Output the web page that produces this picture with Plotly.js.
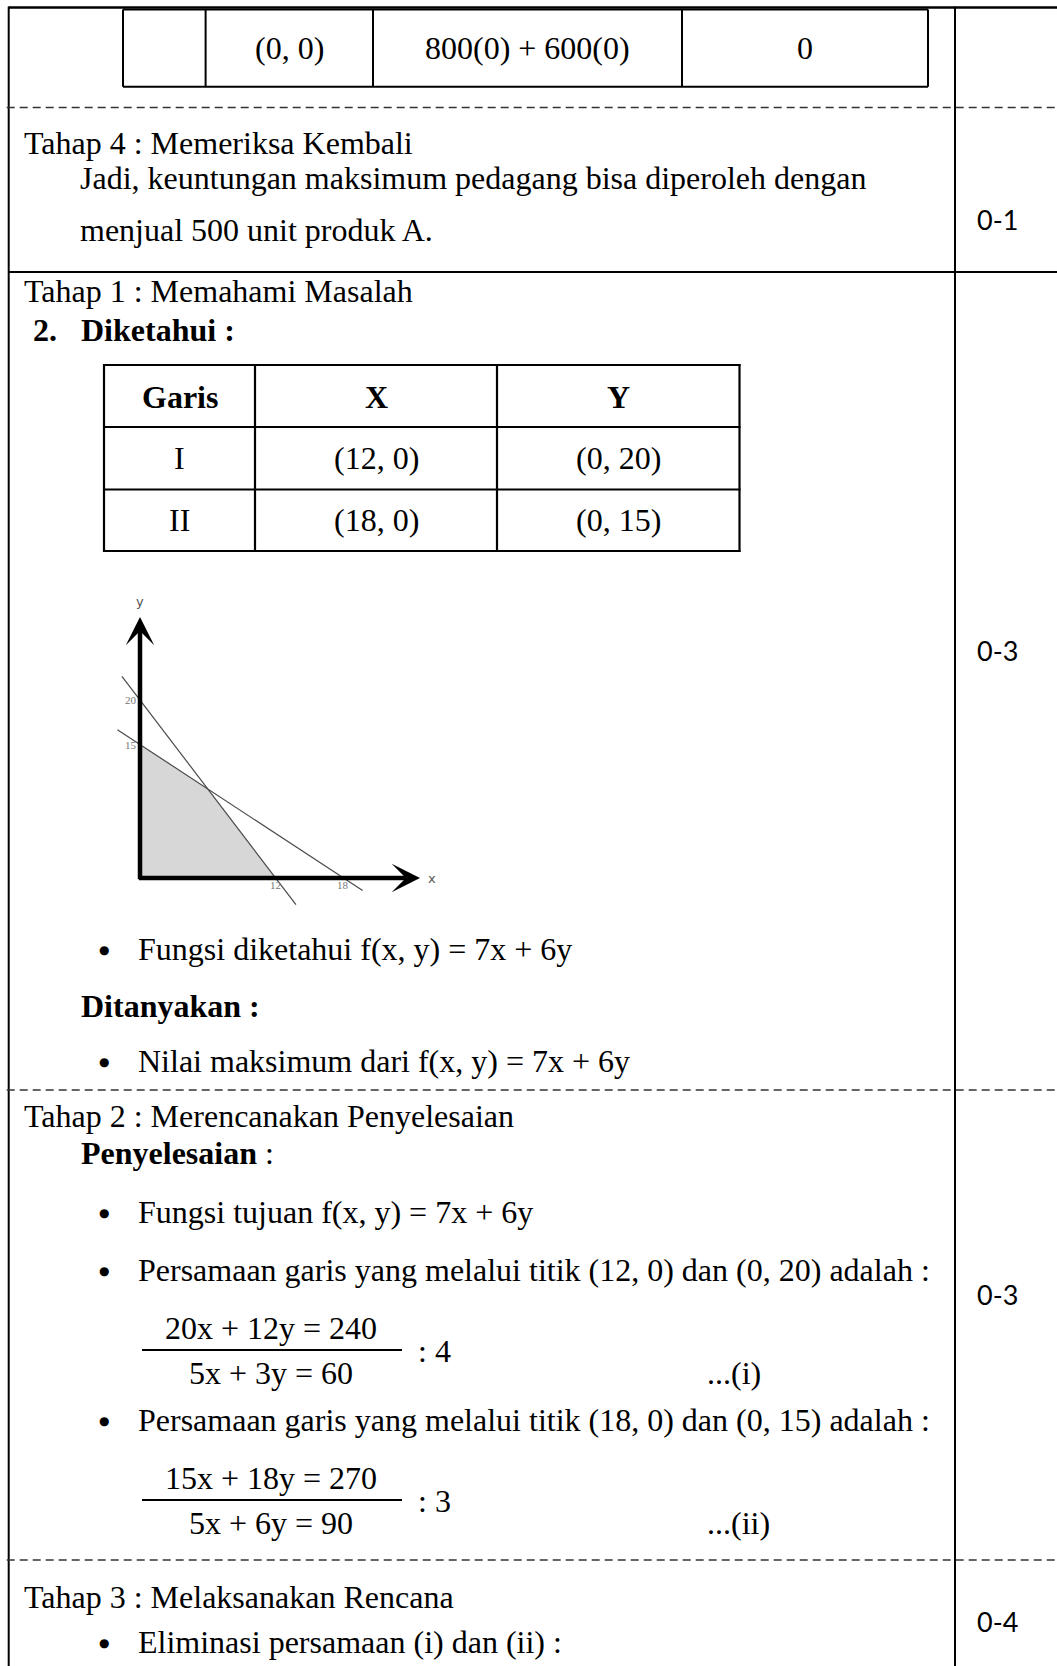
<!DOCTYPE html>
<html><head><meta charset="utf-8">
<script src="https://cdn.plot.ly/plotly-3.0.1.min.js"></script>
<style>html,body{margin:0;padding:0;background:#fff;}#chart{width:1057px;height:1666px;}</style>
</head><body><div id="chart"></div>
<script>
// ---------------- DATA ----------------
const lineLabels = ['I', 'II'];
const lineXIntercepts = [12, 18];
const lineYIntercepts = [20, 15];
const tableHeaders = ['Garis', 'X', 'Y'];
const topRowCells = ['(0, 0)', '800(0) + 600(0)', '0'];
const scores = ['0-1', '0-3', '0-3', '0-4'];
const eqOriginal = ['20x + 12y = 240', '15x + 18y = 270'];
const eqDivisors = [4, 3];
const eqReduced = ['5x + 3y = 60', '5x + 6y = 90'];
const eqTags = ['...(i)', '...(ii)'];
const objectiveText = 'f(x, y) = 7x + 6y';
const stageTitles = ['Tahap 4 : Memeriksa Kembali', 'Tahap 1 : Memahami Masalah',
  'Tahap 2 : Merencanakan Penyelesaian', 'Tahap 3 : Melaksanakan Rencana'];
const conclusionLines = ['Jadi, keuntungan maksimum pedagang bisa diperoleh dengan', 'menjual 500 unit produk A.'];

// ---------------- LAYOUT HELPERS ----------------
const W = 1057, H = 1666;
const SERIF = 'Liberation Serif, Times New Roman, serif';
const SANS = 'Lato, Carlito, Calibri, sans-serif';
const FS = 32;
const px = x => x / W, py = y => 1 - y / H;
const shapes = [], ann = [];
function hline(x0, x1, y, w, dash, color) {
  shapes.push({type: 'line', xref: 'paper', yref: 'paper', x0: px(x0), x1: px(x1), y0: py(y), y1: py(y),
    line: {color: color || '#000', width: w || 2, dash: dash || 'solid'}});
}
function vline(x, y0, y1, w, color) {
  shapes.push({type: 'line', xref: 'paper', yref: 'paper', x0: px(x), x1: px(x), y0: py(y0), y1: py(y1),
    line: {color: color || '#000', width: w || 2}});
}
function txt(text, x, y, o) {
  o = o || {};
  ann.push({text: text, x: px(x), y: py(y), xref: 'paper', yref: 'paper', showarrow: false,
    xanchor: o.anchor || 'left', yanchor: 'middle',
    font: {family: o.family || SERIF, size: o.size || FS, color: o.color || '#000'}});
}
function bullet(text, y) {
  txt('●', 104, y + 1, {anchor: 'center', family: 'DejaVu Sans, sans-serif', size: 12});
  txt(text, 136, y);
}

// ---------------- PAGE FRAME ----------------
const LEFT = 8.7, DIV = 955;
hline(LEFT, W, 7.5, 2.5);
vline(LEFT, 6.5, H, 2);
vline(DIV, 6.5, H, 2);
hline(LEFT, W, 272, 2);
[107.5, 1090, 1560].forEach(y => hline(LEFT - 2, W, y, 1.5, '8px,5px', '#333'));

// top table (tail of previous table)
const t1x = [123, 205.6, 373, 682, 928], t1y = [9.5, 86.8];
t1x.forEach(x => vline(x, t1y[0], t1y[1], 2));
t1y.forEach(y => hline(t1x[0], t1x[4], y, 2));
topRowCells.forEach((c, i) => txt(c, (t1x[i + 1] + t1x[i + 2]) / 2, 48, {anchor: 'center'}));

// Tahap 4
txt(stageTitles[0], 22, 143);
txt(conclusionLines[0], 78, 178);
txt(conclusionLines[1], 78, 230);

// scores
const scoreY = [219, 651, 1294, 1621];
scores.forEach((s, i) => txt(s, 997, scoreY[i], {anchor: 'center', family: SANS, size: 27}));

// Tahap 1
txt(stageTitles[1], 22, 291);
txt('<b>2.</b>', 31, 330);
txt('<b>Diketahui :</b>', 79, 330);

// table Garis
const t2x = [104, 255, 497, 739.5], t2y = [365, 427, 489.5, 551];
t2x.forEach(x => vline(x, t2y[0] - 1, t2y[3] + 1, 2.2));
t2y.forEach(y => hline(t2x[0] - 1, t2x[3] + 1, y, 2.2));
const rowCY = [397, 458, 520];
tableHeaders.forEach((h, i) => txt('<b>' + h + '</b>', (t2x[i] + t2x[i + 1]) / 2, rowCY[0], {anchor: 'center'}));
lineLabels.forEach((l, r) => {
  const cells = [l, '(' + lineXIntercepts[r] + ', 0)', '(0, ' + lineYIntercepts[r] + ')'];
  cells.forEach((c, i) => txt(c, (t2x[i] + t2x[i + 1]) / 2, rowCY[r + 1], {anchor: 'center'}));
});

// texts below graph
bullet('Fungsi diketahui ' + objectiveText, 949);
txt('<b>Ditanyakan :</b>', 79, 1006);
bullet('Nilai maksimum dari ' + objectiveText, 1061);

txt(stageTitles[2], 22, 1116);
txt('<b>Penyelesaian</b> :', 79, 1153);
bullet('Fungsi tujuan ' + objectiveText, 1212);

const eqBlockY = [1270, 1420];
eqOriginal.forEach((e, i) => {
  const y0 = eqBlockY[i];
  bullet('Persamaan garis yang melalui titik (' + lineXIntercepts[i] + ', 0) dan (0, ' + lineYIntercepts[i] + ') adalah :', y0);
  txt(e, 271, y0 + 58, {anchor: 'center'});
  hline(142, 402, y0 + 80, 2);
  txt(': ' + eqDivisors[i], 416, y0 + 81);
  txt(eqReduced[i], 271, y0 + 103, {anchor: 'center'});
  txt(eqTags[i], 705, y0 + 103);
});

txt(stageTitles[3], 22, 1597);
bullet('Eliminasi persamaan (i) dan (ii) :', 1642);

// ---------------- GRAPH ----------------
const X0 = 140, Y0 = 878, SX = 11.3, SY = 8.9;
const gx = [100, 440], gy = [590, 915];
const xr = [(gx[0] - X0) / SX, (gx[1] - X0) / SX];
const yr = [(Y0 - gy[1]) / SY, (Y0 - gy[0]) / SY];

const a = lineXIntercepts, b = lineYIntercepts;
const det = (1 / a[0]) * (1 / b[1]) - (1 / b[0]) * (1 / a[1]);
const ix = ((1 / b[1]) - (1 / b[0])) / det;
const iy = ((1 / a[0]) - (1 / a[1])) / det;
const xMin = Math.min(...a), yMin = Math.min(...b);

const lineExtents = [[-1.6, 13.8], [-2.0, 19.7]];
const traces = [{
  x: [0, xMin, ix, 0, 0], y: [0, 0, iy, yMin, 0], type: 'scatter', mode: 'lines',
  fill: 'toself', fillcolor: '#d7d7d7', line: {width: 0}, hoverinfo: 'skip', showlegend: false
}];
lineLabels.forEach((l, i) => {
  const xs = lineExtents[i];
  traces.push({x: xs, y: xs.map(x => b[i] * (1 - x / a[i])), type: 'scatter', mode: 'lines',
    line: {color: '#4a4a4a', width: 1.2}, name: l, showlegend: false});
});

const gAnn = [];
const axStyle = {xref: 'x', yref: 'y', axref: 'x', ayref: 'y', text: '', showarrow: true,
  arrowhead: 3, arrowsize: 1.05, arrowwidth: 4.5, arrowcolor: '#000', standoff: 0, startstandoff: 0};
gAnn.push(Object.assign({}, axStyle, {x: 0, y: (Y0 - 617) / SY, ax: 0, ay: -0.3}));
gAnn.push(Object.assign({}, axStyle, {x: (420 - X0) / SX, y: 0, ax: -0.22, ay: 0}));
const tickFont = {family: SERIF, size: 11, color: '#777'};
b.slice().sort((p, q) => q - p).forEach(v => gAnn.push({x: 0, y: v, xref: 'x', yref: 'y', text: String(v),
  showarrow: false, xanchor: 'right', yanchor: 'middle', xshift: -1, font: tickFont}));
a.forEach(v => gAnn.push({x: v, y: 0, xref: 'x', yref: 'y', text: String(v),
  showarrow: false, xanchor: 'center', yanchor: 'top', yshift: 1, font: tickFont}));
gAnn.push({x: 0, y: (Y0 - 601) / SY, xref: 'x', yref: 'y', text: 'y', showarrow: false,
  font: {family: 'DejaVu Sans, sans-serif', size: 13, color: '#555'}});
gAnn.push({x: (432 - X0) / SX, y: 0, xref: 'x', yref: 'y', text: 'x', showarrow: false,
  font: {family: 'DejaVu Sans, sans-serif', size: 13, color: '#555'}});

const layout = {
  width: W, height: H, margin: {l: 0, r: 0, t: 0, b: 0},
  paper_bgcolor: '#fff', plot_bgcolor: 'rgba(0,0,0,0)', showlegend: false,
  xaxis: {domain: [px(gx[0]), px(gx[1])], range: xr, visible: false, fixedrange: true},
  yaxis: {domain: [py(gy[1]), py(gy[0])], range: yr, visible: false, fixedrange: true},
  shapes: shapes,
  annotations: ann.concat(gAnn)
};
Plotly.newPlot('chart', traces, layout, {displayModeBar: false, staticPlot: true});
</script></body></html>
